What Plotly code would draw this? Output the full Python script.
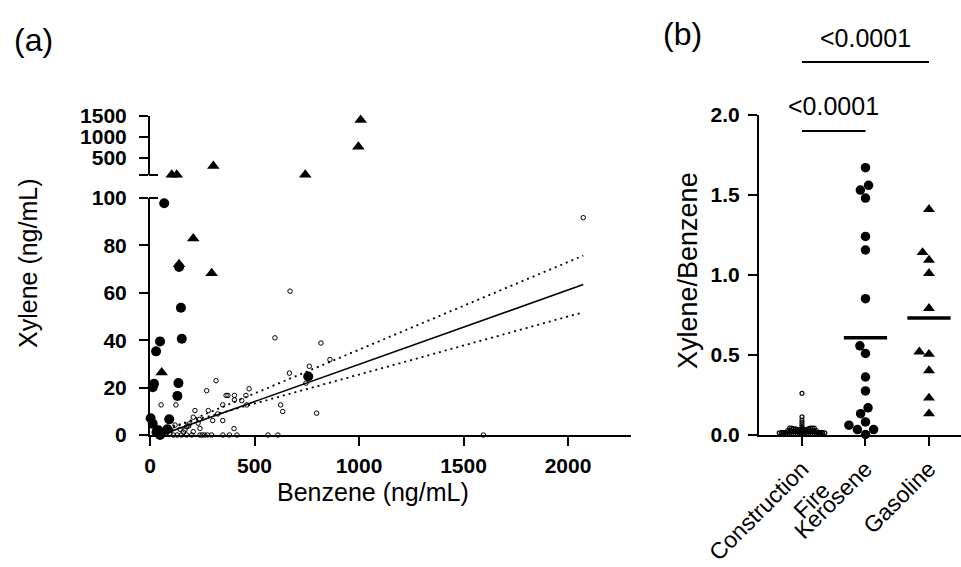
import math
import plotly.graph_objects as go

# ---------------- data: panel (a) ----------------
construction_benzene = [598, 667, 316, 271, 53, 124, 364, 373, 404, 404, 439, 459, 474, 463,
                        625, 635, 348, 279, 215, 324, 300, 348, 207, 236, 239, 402, 188, 175,
                        167, 144, 120, 207, 818, 861, 762, 746, 797, 670, 2073, 1595,
                        112, 130, 150, 175, 200, 239, 250, 262, 275, 295, 349, 380, 416, 565, 612,
                        20, 40, 60, 80, 95, 100, 30, 160, 185, 230]
construction_xylene = [41, 26.1, 22.9, 18.7, 12.7, 12.7, 16.7, 16.7, 16.7, 14.8, 14.5, 16.7, 19.5, 12.7,
                       12.7, 9.9, 12.7, 10.3, 10.3, 8.9, 6.1, 6.1, 7.5, 6.6, 2.8, 2.7, 4.7, 3.5,
                       2.1, 2.4, 4.2, 1.4, 38.8, 31.8, 29, 21.9, 9.2, 60.7, 91.7, 0,
                       0, 0, 0, 0, 0, 0, 0, 0, 0, 0, 0, 0, 0, 0, 0,
                       1, 0.5, 1.5, 1, 0.5, 2, 3, 1.2, 3.8, 5.0]

kerosene_benzene = [68, 139, 148, 152, 48, 29, 19, 13, 136, 131, 3, 13, 92, 83, 32, 48, 757, 40]
kerosene_xylene = [97.8, 70.9, 53.7, 40.6, 39.5, 35.3, 21.6, 20.2, 21.9, 16.5, 7.1, 4.7, 6.6, 2.4, 1.4, 0, 24.7, 2.0]

gasoline_benzene = [104, 128, 303, 743, 1008, 997, 207, 295, 56, 139]
gasoline_xylene = [105, 108, 312, 105, 1396, 767, 82.9, 68.2, 26.4, 72]

# regression fit of construction-fire samples (line and 95% confidence band)
fit_slope, fit_intercept = 0.0314, -1.6
ci_upper_slope, ci_upper_intercept = 0.0370, -1.0
ci_lower_slope, ci_lower_intercept = 0.0245, 1.0
fit_x_start, ci_x_start = 60, 110

break_value = 100
x_ticks_a = [0, 500, 1000, 1500, 2000]
y_ticks_low = [0, 20, 40, 60, 80, 100]
y_ticks_high = [100, 500, 1000, 1500]
y_ticktext_high = ["", "500", "1000", "1500"]

# ---------------- data: panel (b) ----------------
categories = ["Construction<br>Fire", "Kerosene", "Gasoline"]
construction_ratio = [0.257, 0.11, 0.09, 0.075, 0.06, 0.045, 0.04, 0.04, 0.04, 0.04, 0.04, 0.035,
                      0.035, 0.035, 0.03, 0.03, 0.03, 0.03, 0.03, 0.025, 0.025, 0.025, 0.025,
                      0.02, 0.02, 0.02, 0.02, 0.02, 0.02, 0.015, 0.015, 0.015, 0.015, 0.015,
                      0.01, 0.01, 0.01, 0.01, 0.01, 0.01, 0.01, 0.005, 0.005, 0.005, 0.005,
                      0.005, 0.005, 0.0, 0.0, 0.0, 0.0, 0.0, 0.0, 0.0, 0.0, 0.0, 0.0]
kerosene_ratio = [1.67, 1.56, 1.53, 1.48, 1.24, 1.155, 0.85, 0.555, 0.507, 0.36, 0.273, 0.167,
                  0.13, 0.079, 0.058, 0.031, 0.031, 0.0]
gasoline_ratio = [1.41, 1.14, 1.092, 1.009, 0.79, 0.518, 0.503, 0.40, 0.229, 0.13]
group_means = [0.015, 0.605, 0.73]
p_values = ["<0.0001", "<0.0001"]
y_ticks_b = [0.0, 0.5, 1.0, 1.5, 2.0]

# ---------------- layout geometry ----------------
W, H = 961, 567
FONT = "Liberation Sans, Arial, Helvetica, sans-serif"


def fx(p):
    return p / W


def fy(p):
    return 1 - p / H


# panel a pixel frame
A_LEFT, A_RIGHT = 150, 630.7
A_BOT, A_TOP_LOW = 435, 198
A_BOT_HIGH, A_TOP_HIGH = 175, 115.6
# panel b pixel frame
B_LEFT, B_RIGHT = 759, 961
B_BOT, B_TOP = 434.5, 115
B_XRANGE = [-0.677, 2.504]


def cat_px(c):
    return B_LEFT + (c - B_XRANGE[0]) / (B_XRANGE[1] - B_XRANGE[0]) * (B_RIGHT - B_LEFT)


PPX_B = (B_RIGHT - B_LEFT) / (B_XRANGE[1] - B_XRANGE[0])
PPY_B = (B_BOT - B_TOP) / 2.0


def beeswarm(vals, diam):
    n = len(vals)
    order = sorted(range(n), key=lambda i: vals[i])
    placed = []
    off = [0.0] * n
    for i in order:
        y = vals[i] * PPY_B
        cands = [0.0]
        for (px_, py_) in placed:
            dy = abs(y - py_)
            if dy < diam:
                dx = math.sqrt(diam ** 2 - dy ** 2)
                cands += [px_ + dx, px_ - dx]
        cands.sort(key=lambda c: (abs(c), c))
        chosen = 0.0
        for c in cands:
            if all((c - px_) ** 2 + (y - py_) ** 2 >= diam ** 2 - 1e-6 for px_, py_ in placed):
                chosen = c
                break
        placed.append((chosen, y))
        off[i] = chosen / PPX_B
    return off


fig = go.Figure()


def split(xs, ys):
    lo = [(x, y) for x, y in zip(xs, ys) if y <= break_value]
    hi = [(x, y) for x, y in zip(xs, ys) if y > break_value]
    return lo, hi


# regression line + CI
xmax = max(construction_benzene)
fig.add_trace(go.Scatter(x=[fit_x_start, xmax],
                         y=[fit_intercept + fit_slope * fit_x_start, fit_intercept + fit_slope * xmax],
                         mode="lines", line=dict(color="black", width=1.6),
                         xaxis="x", yaxis="y", showlegend=False, hoverinfo="skip"))
for s, b in [(ci_upper_slope, ci_upper_intercept), (ci_lower_slope, ci_lower_intercept)]:
    fig.add_trace(go.Scatter(x=[ci_x_start, xmax], y=[b + s * ci_x_start, b + s * xmax],
                             mode="lines", line=dict(color="black", width=1.8, dash="2px,4px"),
                             xaxis="x", yaxis="y", showlegend=False, hoverinfo="skip"))

# scatter groups in panel a
groups_a = [
    (construction_benzene, construction_xylene, dict(symbol="circle-open", size=4.5, color="black",
                                                      line=dict(width=1, color="black"))),
    (kerosene_benzene, kerosene_xylene, dict(symbol="circle", size=10, color="black")),
    (gasoline_benzene, gasoline_xylene, dict(symbol="triangle-up", size=11, color="black")),
]
for xs, ys, mk in groups_a:
    lo, hi = split(xs, ys)
    if lo:
        fig.add_trace(go.Scatter(x=[p[0] for p in lo], y=[p[1] for p in lo], mode="markers",
                                 marker=mk, cliponaxis=False, xaxis="x", yaxis="y", showlegend=False))
    if hi:
        fig.add_trace(go.Scatter(x=[p[0] for p in hi], y=[p[1] for p in hi], mode="markers",
                                 marker=mk, cliponaxis=False, xaxis="x", yaxis="y2", showlegend=False))

# panel b
groups_b = [
    (construction_ratio, 2.1, dict(symbol="circle-open", size=4, color="black", line=dict(width=1.2, color="black"))),
    (kerosene_ratio, 9.5, dict(symbol="circle", size=9.5, color="black")),
    (gasoline_ratio, 10, dict(symbol="triangle-up", size=10.5, color="black")),
]
for ci, (vals, diam, mk) in enumerate(groups_b):
    offs = beeswarm(vals, diam)
    fig.add_trace(go.Scatter(x=[ci + o for o in offs], y=vals, mode="markers", marker=mk,
                             cliponaxis=False, xaxis="x2", yaxis="y3", showlegend=False))

shapes = []
for ci, m in enumerate(group_means):
    shapes.append(dict(type="line", xref="x2", yref="y3", x0=ci - 0.34, x1=ci + 0.34, y0=m, y1=m,
                       line=dict(color="black", width=4 if ci == 0 else 3.5)))
# axis-break stubs
for yy in [A_BOT_HIGH, A_TOP_LOW]:
    shapes.append(dict(type="line", xref="paper", yref="paper", x0=fx(A_LEFT - 1), x1=fx(A_LEFT + 8),
                       y0=fy(yy), y1=fy(yy), line=dict(color="black", width=2)))
# significance bars
sig = [(0, 2, 62, 38, p_values[0]), (0, 1, 131, 106, p_values[1])]
annotations = []
for c0, c1, ybar, ytxt, txt in sig:
    shapes.append(dict(type="line", xref="paper", yref="paper", x0=fx(cat_px(c0)), x1=fx(cat_px(c1)),
                       y0=fy(ybar), y1=fy(ybar), line=dict(color="black", width=2.2)))
    annotations.append(dict(text=txt, xref="paper", yref="paper", x=fx(cat_px((c0 + c1) / 2)), y=fy(ytxt),
                            showarrow=False, xanchor="center", yanchor="middle",
                            font=dict(family=FONT, size=25, color="black")))

title_font = dict(family=FONT, size=25, color="black")
annotations += [
    dict(text="(a)", x=fx(33), y=fy(40), font=dict(family=FONT, size=32, color="black")),
    dict(text="(b)", x=fx(682), y=fy(34), font=dict(family=FONT, size=32, color="black")),
    dict(text="Xylene (ng/mL)", x=fx(28), y=fy(263), textangle=-90, font=title_font),
    dict(text="Benzene (ng/mL)", x=fx(373), y=fy(492), font=title_font),
    dict(text="Xylene/Benzene", x=fx(688), y=fy(271), textangle=-90,
         font=dict(family=FONT, size=27, color="black")),
]
for a in annotations[2:]:
    a.update(xref="paper", yref="paper", showarrow=False, xanchor="center", yanchor="middle")

tick_font = dict(family=FONT, size=21, color="black", weight="bold")
axis_common = dict(showline=True, linecolor="black", linewidth=2, ticks="outside", ticklen=9,
                   tickwidth=2, tickcolor="black", showgrid=False, zeroline=False, tickfont=tick_font,
                   automargin=False)

fig.update_layout(
    template="none",
    width=W, height=H, margin=dict(l=0, r=0, t=0, b=0, pad=0, autoexpand=False),
    paper_bgcolor="white", plot_bgcolor="white",
    xaxis=dict(domain=[fx(A_LEFT), fx(A_RIGHT)], range=[0, 2300], tickvals=x_ticks_a,
               anchor="y", ticklabelstandoff=2, **axis_common),
    yaxis=dict(domain=[fy(A_BOT), fy(A_TOP_LOW)], range=[0, 100], tickvals=y_ticks_low,
               anchor="x", ticklabelstandoff=8, **axis_common),
    yaxis2=dict(domain=[fy(A_BOT_HIGH), fy(A_TOP_HIGH)], range=[break_value, 1500], tickvals=y_ticks_high,
                ticktext=y_ticktext_high, anchor="x", ticklabelstandoff=8, **axis_common),
    xaxis2=dict(domain=[fx(B_LEFT), fx(B_RIGHT)], range=B_XRANGE, tickvals=[0, 1, 2], ticktext=categories,
                tickangle=-45, anchor="y3", ticklabelstandoff=1,
                **{**axis_common, "tickfont": dict(family=FONT, size=23, color="black")}),
    yaxis3=dict(domain=[fy(B_BOT), fy(B_TOP)], range=[0, 2.0], tickvals=y_ticks_b,
                ticktext=["0.0", "0.5", "1.0", "1.5", "2.0"], anchor="x2", ticklabelstandoff=4, **axis_common),
    shapes=shapes, annotations=annotations,
)

fig.write_html("out.html", config={"displayModeBar": False},
               post_script="document.body.style.margin='0px';document.body.style.overflow='hidden';")
